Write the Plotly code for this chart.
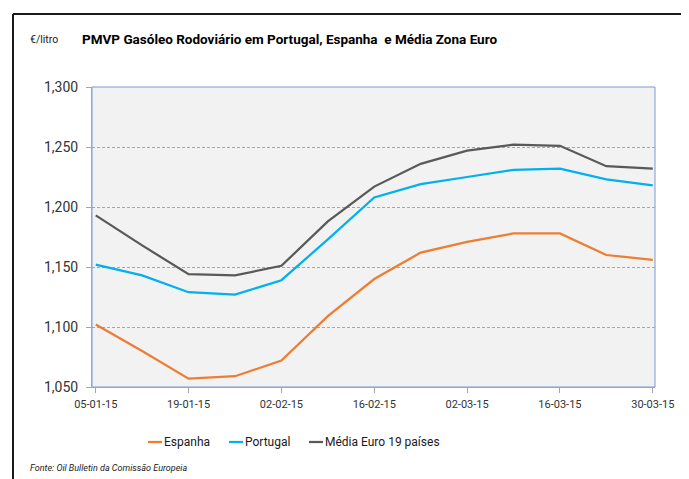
import plotly.graph_objects as go

dates = ["2015-01-05", "2015-01-12", "2015-01-19", "2015-01-26", "2015-02-02",
         "2015-02-09", "2015-02-16", "2015-02-23", "2015-03-02", "2015-03-09",
         "2015-03-16", "2015-03-23", "2015-03-30"]
espanha = [1.102, 1.080, 1.057, 1.059, 1.072, 1.109, 1.140, 1.162, 1.171, 1.178,
           1.178, 1.160, 1.156]
portugal = [1.152, 1.143, 1.129, 1.127, 1.139, 1.173, 1.208, 1.219, 1.225, 1.231,
            1.232, 1.223, 1.218]
media = [1.193, 1.168, 1.144, 1.143, 1.151, 1.188, 1.217, 1.236, 1.247, 1.252,
         1.251, 1.234, 1.232]

series_names = ["Espanha", "Portugal", "Média Euro 19 países"]
series_colors = ["#ED7D31", "#00B0F0", "#595959"]

tick_dates = ["2015-01-05", "2015-01-19", "2015-02-02", "2015-02-16",
              "2015-03-02", "2015-03-16", "2015-03-30"]
tick_labels = ["05-01-15", "19-01-15", "02-02-15", "16-02-15",
               "02-03-15", "16-03-15", "30-03-15"]
y_ticks = [1.05, 1.10, 1.15, 1.20, 1.25, 1.30]

FONT = "Roboto, Liberation Sans, sans-serif"
OFF = 8                      # page body margin
W, H = 689 - OFF, 479 - OFF
PL, PR, PT, PB = 92, 655, 87, 387   # plot area in screen pixels
L, R, T, B = PL - OFF, 689 - PR, PT - OFF, 479 - PB
PW, PH = PR - PL, PB - PT


def px(x):
    return (x - PL) / PW


def py(y):
    return (PB - y) / PH


fig = go.Figure()
for name, vals, col in zip(series_names, [espanha, portugal, media], series_colors):
    fig.add_trace(go.Scatter(x=dates, y=vals, name=name, mode="lines",
                             line=dict(color=col, width=2.25), showlegend=False))

shapes = [
    dict(type="rect", xref="paper", yref="paper", x0=0, y0=0, x1=1, y1=1,
         line=dict(color="#7b9bd1", width=1), layer="below"),
    dict(type="line", xref="paper", yref="paper", x0=px(13), x1=px(688), y0=py(14), y1=py(14),
         line=dict(color="#1a1a1a", width=2)),
    dict(type="line", xref="paper", yref="paper", x0=px(13), x1=px(13), y0=py(14), y1=py(490),
         line=dict(color="#1a1a1a", width=2)),
    dict(type="line", xref="paper", yref="paper", x0=px(687), x1=px(687), y0=py(14), y1=py(490),
         line=dict(color="#9a9a9a", width=1)),
]

annotations = [
    dict(text="PMVP Gasóleo Rodoviário em Portugal, Espanha  e Média Zona Euro",
         xref="paper", yref="paper", x=px(80), y=py(39), xanchor="left", yanchor="middle",
         showarrow=False, font=dict(family=FONT, size=13.5, color="#000000", weight="bold")),
    dict(text="€/litro", xref="paper", yref="paper", x=px(28), y=py(40),
         xanchor="left", yanchor="middle", showarrow=False,
         font=dict(family=FONT, size=10.5, color="#1a1a1a")),
    dict(text="<i>Fonte: Oil Bulletin da Comissão Europeia</i>", xref="paper", yref="paper",
         x=px(28), y=py(468), xanchor="left", yanchor="middle", showarrow=False,
         font=dict(family=FONT, size=9, color="#1a1a1a")),
]

# manual legend
leg_x = [148, 229, 309]
for name, col, lx in zip(series_names, series_colors, leg_x):
    shapes.append(dict(type="line", xref="paper", yref="paper",
                       x0=px(lx), x1=px(lx + 14), y0=py(442), y1=py(442),
                       line=dict(color=col, width=2.25)))
    annotations.append(dict(text=name, xref="paper", yref="paper", x=px(lx + 14), y=py(442),
                            xanchor="left", yanchor="middle", showarrow=False,
                            font=dict(family=FONT, size=12, color="#1a1a1a")))

fig.update_layout(
    width=W, height=H,
    margin=dict(l=L, r=R, t=T, b=B, pad=0),
    paper_bgcolor="#ffffff",
    plot_bgcolor="#f2f2f2",
    separators=",.",
    font=dict(family=FONT, size=12, color="#333333"),
    shapes=shapes,
    annotations=annotations,
    showlegend=False,
    xaxis=dict(
        type="date",
        range=["2015-01-04 10:30", "2015-03-30 08:00"],
        tickmode="array", tickvals=tick_dates, ticktext=tick_labels,
        showgrid=False, zeroline=False,
        showline=True, linecolor="#a6a6a6", linewidth=1,
        ticks="outside", ticklen=5, tickcolor="#a6a6a6", tickwidth=1,
        tickfont=dict(family=FONT, size=11, color="#333333"),
        ticklabelstandoff=2,
    ),
    yaxis=dict(
        range=[1.05, 1.30],
        tickmode="array", tickvals=y_ticks, tickformat=".3f",
        showgrid=True, gridcolor="#a6a6a6", gridwidth=1, griddash="3px,2px",
        zeroline=False,
        showline=True, linecolor="#a6a6a6", linewidth=1,
        ticks="outside", ticklen=5, tickcolor="#a6a6a6", tickwidth=1,
        tickfont=dict(family=FONT, size=14, color="#333333"),
        ticklabelstandoff=5,
    ),
)

fig.write_html("out.html")
